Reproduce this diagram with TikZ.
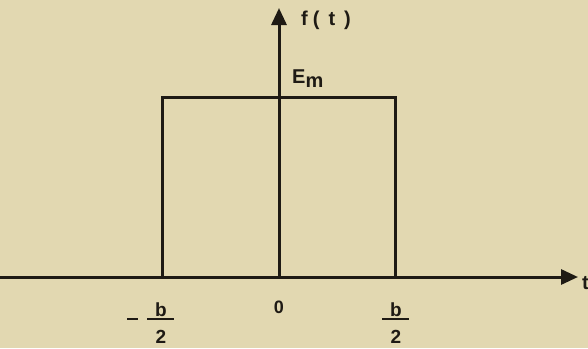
\documentclass[tikz,border=0pt]{standalone}
\usepackage{fontspec}
\setmainfont{Liberation Sans}
\usetikzlibrary{arrows.meta}
\definecolor{clrPaper}{HTML}{E2D8B1}
\definecolor{clrInk}{HTML}{1E1A14}

\begin{document}
\begin{tikzpicture}[
    x=1pt, y=-1pt,
    axis/.style={-{Triangle[length=17pt, width=15pt]}, line width=3pt, draw=clrInk},
    pulse/.style={line width=3pt, draw=clrInk},
    fracbar/.style={line width=2.6pt, draw=clrInk},
    lbl/.style={font=\fontsize{20}{22}\selectfont\bfseries, text=clrInk, inner sep=0pt},
    tick/.style={font=\fontsize{19}{20}\selectfont\bfseries, text=clrInk, inner sep=0pt},
]

% Paper
\fill[clrPaper] (0,0) rectangle (588,348);
\useasboundingbox (0,0) rectangle (588,348);

% Axes
\coordinate (origin) at (279,277);
\coordinate (tleft) at (0,277);
\coordinate (tright) at (578,277);
\coordinate (ftop) at (279,8);
\draw[axis] (tleft) -- (tright);
\draw[axis] (origin) -- (ftop);
\node[lbl, anchor=west] (flbl) at (301,20) {f\hspace{5pt}(\hspace{9pt}t\hspace{9pt})};
\node[lbl, anchor=west] (tlbl) at (582,283) {t};

% Rectangular pulse
\coordinate (pl) at (162,277);
\coordinate (pr) at (395,277);
\coordinate (tl) at (162,97);
\coordinate (tr) at (395,97);
\draw[pulse] (pl) -- (tl) -- (tr) -- (pr);
\node[lbl, anchor=base west] (emlbl) at (292,83) {E\raisebox{-4pt}{m}};

% Tick labels
\node[tick, font=\fontsize{18}{19}\selectfont\bfseries, anchor=base] (zero) at (279,313) {0};
% -b/2
\node[tick, anchor=base] (bnegnum) at (161,316) {b};
\node[tick, anchor=base] (bnegden) at (161,343) {2};
\coordinate (bnegl) at (147,319);
\coordinate (bnegr) at (174,319);
\draw[fracbar] (bnegl) -- (bnegr);
\coordinate (minl) at (127,319);
\coordinate (minr) at (138,319);
\draw[fracbar] (minl) -- (minr);
% b/2
\node[tick, anchor=base] (bposnum) at (396,316) {b};
\node[tick, anchor=base] (bposden) at (396,343) {2};
\coordinate (bposl) at (382,319);
\coordinate (bposr) at (409,319);
\draw[fracbar] (bposl) -- (bposr);

\end{tikzpicture}
\end{document}
